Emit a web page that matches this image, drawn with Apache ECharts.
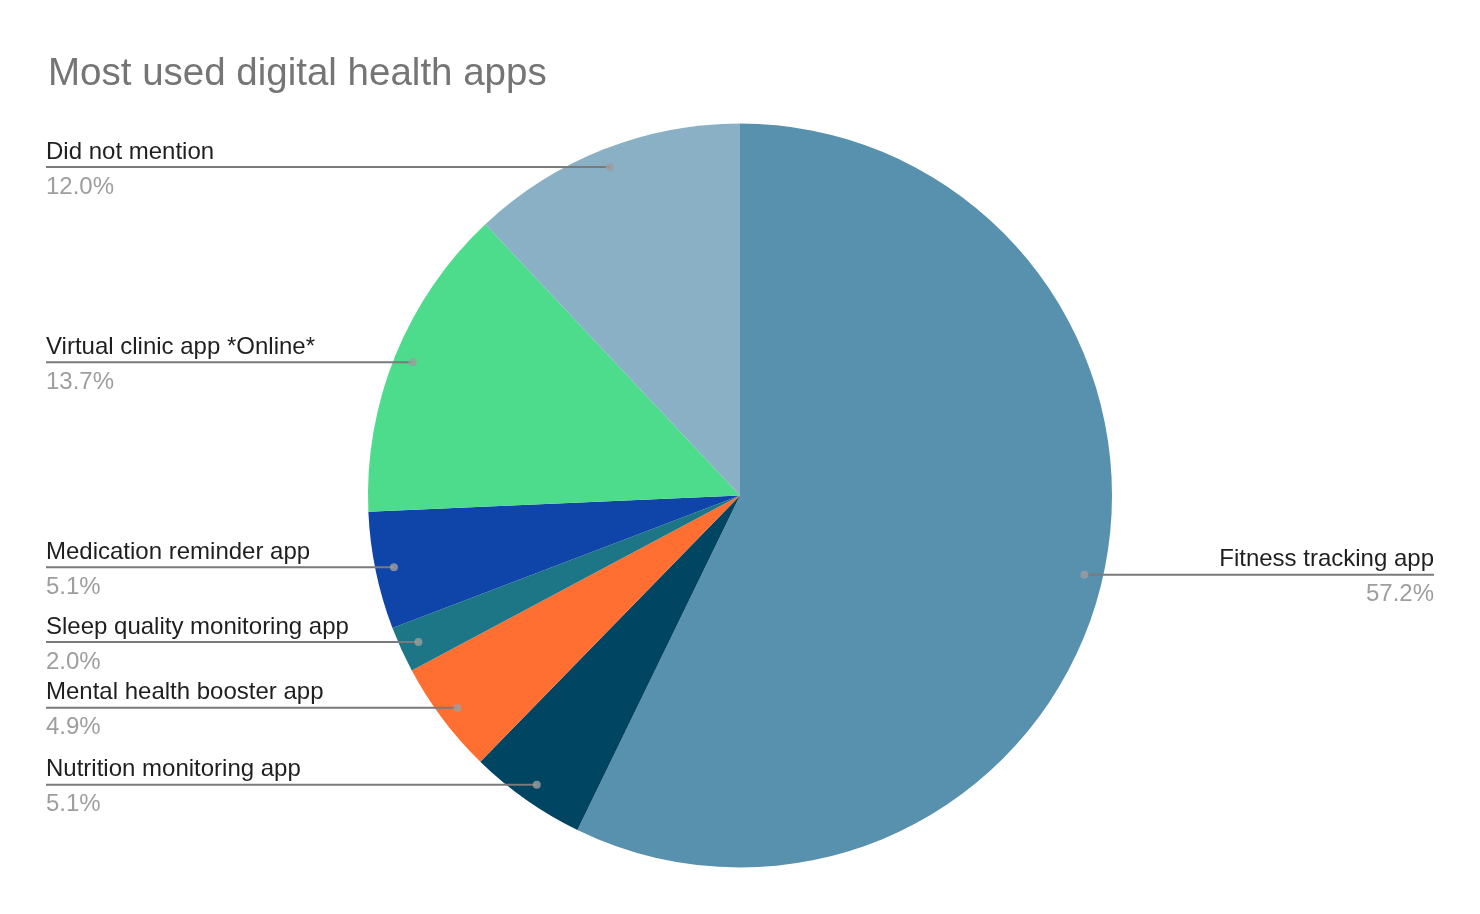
<!DOCTYPE html>
<html><head><meta charset="utf-8">
<script src="https://cdn.jsdelivr.net/npm/echarts@6/dist/echarts.min.js"></script>
<style>html,body{margin:0;padding:0;background:#fff}#c{width:1480px;height:914px}</style>
</head><body><div id="c"></div>
<script>
const titleText = 'Most used digital health apps';
const categories = ['Fitness tracking app','Nutrition monitoring app','Mental health booster app','Sleep quality monitoring app','Medication reminder app','Virtual clinic app *Online*','Did not mention'];
const values = [57.2, 5.1, 4.9, 2.0, 5.1, 13.7, 12.0];
const colors = ['#5891ad','#004561','#ff6f31','#1c7685','#0f45a8','#4cdc8b','#89b0c4'];

const FONT = 'Liberation Sans, Arial, sans-serif';
const chart = echarts.init(document.getElementById('c'), null, {renderer:'canvas'});
const W = 1480, CX = 740, CY = 495.5, R = 372, DOT = 0.95, EDGE = 46;
const total = values.reduce((a,b)=>a+b,0);
let cum = 0;
const dots = values.map(v => { const mid = cum + v/2; cum += v; return [DOT, mid]; });
const pieData = categories.map((n,i)=>({name:n, value:values[i], itemStyle:{color:colors[i]}}));
const labelData = categories.map((n,i)=>({name:n, value:values[i]}));

const option = {
  animation:false,
  backgroundColor:'#ffffff',
  title:{text:titleText, left:43, top:50, textStyle:{fontFamily:FONT, fontSize:38.5, fontWeight:'normal', color:'#757575'}},
  polar:{center:[CX,CY], radius:R},
  angleAxis:{type:'value', min:0, max:total, startAngle:90, clockwise:true, show:false},
  radiusAxis:{type:'value', min:0, max:1, show:false},
  series:[
    {type:'pie', center:[CX,CY], radius:R, startAngle:90, clockwise:true, data:pieData,
     label:{show:false}, labelLine:{show:false}, silent:true, z:1},
    {type:'pie', center:[CX,CY], radius:R*DOT, startAngle:90, clockwise:true, data:labelData,
     itemStyle:{color:'rgba(0,0,0,0)'}, silent:true, avoidLabelOverlap:false, z:2,
     label:{show:true, position:'outside',
       formatter: p => '{n|' + p.name + '}\n{v|' + p.value.toFixed(1) + '%}',
       rich:{
         n:{fontFamily:FONT, fontSize:24, color:'#1f1f1f', lineHeight:35},
         v:{fontFamily:FONT, fontSize:24, color:'#9e9e9e', lineHeight:35}
       }},
     labelLine:{show:true, length:0, length2:10, lineStyle:{color:'#7a7a7a', width:2}},
     labelLayout: function(p){
       const a = p.labelLinePoints[0];
       const left = a[0] < W/2;
       const ex = left ? EDGE : W-EDGE;
       return {x:ex, y:a[1], dy:2.5, align:left?'left':'right', verticalAlign:'middle',
               labelLinePoints:[[a[0],a[1]],[(a[0]+ex)/2,a[1]],[ex,a[1]]]};
     }},
    {type:'scatter', coordinateSystem:'polar', data:dots, symbolSize:8,
     itemStyle:{color:'#9e9e9e'}, silent:true, z:3}
  ]
};
chart.setOption(option);
</script></body></html>
